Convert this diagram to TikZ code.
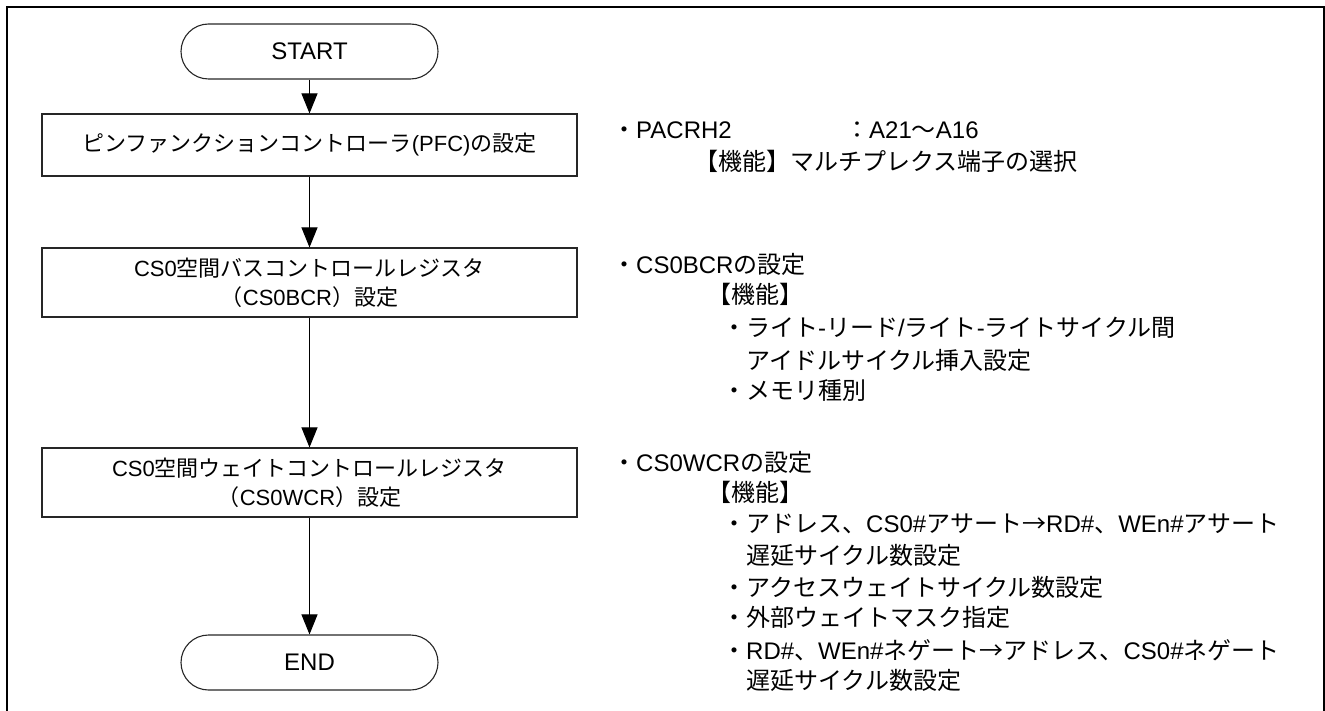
\documentclass[tikz,border=0pt]{standalone}
\usepackage{fontspec}
\setmainfont{Liberation Sans}
\newfontfamily\jpfont{Noto Sans CJK JP}
\newcommand{\J}[1]{{\jpfont #1}}
\usetikzlibrary{arrows.meta}
\begin{document}
\begin{tikzpicture}[x=1pt,y=-1pt,
  term/.style={draw=black!85,line width=1.1pt,rounded corners=27.5pt,minimum width=257pt,minimum height=55pt,inner sep=0pt,font=\fontsize{24}{29}\selectfont},
  proc/.style={draw=black!85,line width=1.1pt,minimum width=535pt,inner sep=0pt,align=center,font=\fontsize{22}{29}\selectfont},
  arr/.style={-{Triangle[length=20pt,width=16pt]},line width=1pt},
  note/.style={anchor=base west,inner sep=0pt,font=\fontsize{24}{29}\selectfont},
  frame/.style={line width=2.5pt}
]
\useasboundingbox (0,0) rectangle (1325,711);
\draw[frame] (7,711) -- (7,7) -- (1325,7);
\draw[line width=1.2pt] (1324,7) -- (1324,711);

\node[term] (start) at (309.5,51.5) {START};
\node[proc,minimum height=62pt] (pfc) at (309.5,145) {\J{ピンファンクションコントローラ}(PFC)\J{の設定}};
\node[proc,minimum height=69pt] (bcr) at (309.5,282.5) {CS0\J{空間バスコントロールレジスタ}\\\J{（}CS0BCR\J{）設定}};
\node[proc,minimum height=69pt] (wcr) at (309.5,482.5) {CS0\J{空間ウェイトコントロールレジスタ}\\\J{（}CS0WCR\J{）設定}};
\node[term] (end) at (309.5,662.5) {END};

\draw[arr] (start) -- (pfc);
\draw[arr] (pfc) -- (bcr);
\draw[arr] (bcr) -- (wcr);
\draw[arr] (wcr) -- (end);

\node[note] (n1) at (612,139) {\J{・}PACRH2};
\node[note] (n1b) at (845,139) {\J{：}A21\J{～}A16};
\node[note] (n2) at (694,171) {\J{【機能】マルチプレクス端子の選択}};
\node[note] (n3) at (612,274) {\J{・}CS0BCR\J{の設定}};
\node[note] (n4) at (707,304) {\J{【機能】}};
\node[note] (n5) at (722,337) {\J{・ライト}-\J{リード}/\J{ライト}-\J{ライトサイクル間}};
\node[note] (n6) at (746,369) {\J{アイドルサイクル挿入設定}};
\node[note] (n7) at (722,399) {\J{・メモリ種別}};
\node[note] (n8) at (612,471) {\J{・}CS0WCR\J{の設定}};
\node[note] (n9) at (707,501) {\J{【機能】}};
\node[note] (n10) at (722,532) {\J{・アドレス、}CS0\#\J{アサート→}RD\#\J{、}WEn\#\J{アサート}};
\node[note] (n11) at (746,564) {\J{遅延サイクル数設定}};
\node[note] (n12) at (722,596) {\J{・アクセスウェイトサイクル数設定}};
\node[note] (n13) at (722,626) {\J{・外部ウェイトマスク指定}};
\node[note] (n14) at (722,659) {\J{・}RD\#\J{、}WEn\#\J{ネゲート→アドレス、}CS0\#\J{ネゲート}};
\node[note] (n15) at (746,689) {\J{遅延サイクル数設定}};
\end{tikzpicture}
\end{document}
